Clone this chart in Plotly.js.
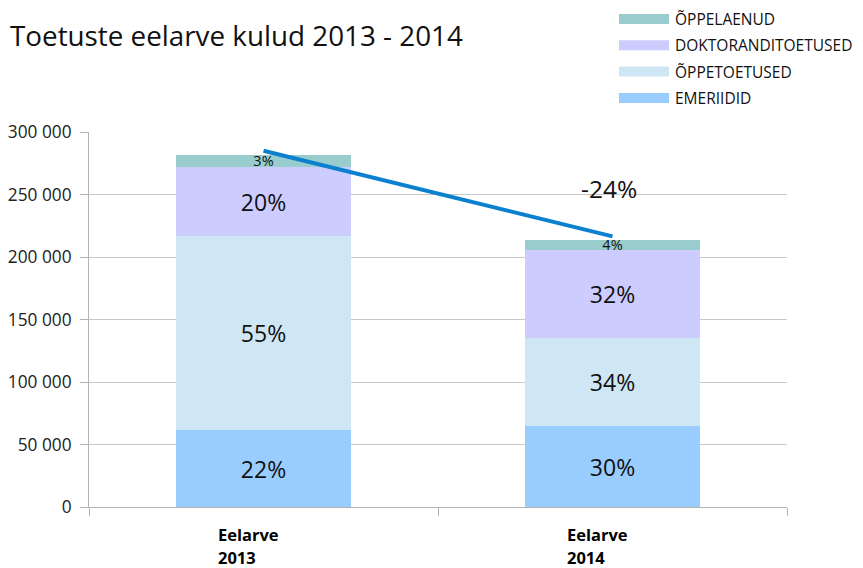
<!DOCTYPE html>
<html>
<head>
<meta charset="utf-8">
<script src="https://cdn.plot.ly/plotly-3.0.1.min.js"></script>
<style>html,body{margin:0;padding:0;background:#fff;}#chart{width:863px;height:568px;}</style>
</head>
<body>
<div id="chart"></div>
<script>
const categories = ["Eelarve 2013", "Eelarve 2014"];
const categoryLabels = ["Eelarve<br>2013", "Eelarve<br>2014"];
const seriesNames = ["EMERIIDID", "ÕPPETOETUSED", "DOKTORANDITOETUSED", "ÕPPELAENUD"];
const emeriidid = [61500, 64500];
const oppetoetused = [155000, 71000];
const doktorand = [55500, 70500];
const oppelaenud = [10000, 8000];
const pctEmeriidid = ["22%", "30%"];
const pctOppetoetused = ["55%", "34%"];
const pctDoktorand = ["20%", "32%"];
const pctOppelaenud = ["3%", "4%"];
const trendValues = [285000, 216500];
const trendLabel = "-24%";
const colors = ["#99CCFF", "#CFE6F4", "#CCCCFF", "#99CCCC"];

const seriesValues = [emeriidid, oppetoetused, doktorand, oppelaenud];
const seriesPct = [pctEmeriidid, pctOppetoetused, pctDoktorand, pctOppelaenud];
const font = "Open Sans, Noto Sans, DejaVu Sans, sans-serif";

const traces = seriesValues.map((vals, i) => ({
  type: "bar",
  x: categories,
  y: vals,
  name: seriesNames[i],
  marker: {color: colors[i]},
  text: seriesPct[i],
  texttemplate: "%{text}",
  textposition: "inside",
  insidetextanchor: "middle",
  constraintext: "none",
  textfont: {size: i === 3 ? 14.5 : 23, color: "#111", family: font},
  hoverinfo: "skip",
  showlegend: false
}));

traces.push({
  type: "scatter",
  mode: "lines",
  x: categories,
  y: trendValues,
  line: {color: "#0A80CF", width: 4},
  showlegend: false,
  hoverinfo: "skip"
});

const shapes = [];
const annotations = [];
// legend (top item = last series)
const legendOrder = [3, 2, 1, 0];
legendOrder.forEach((si, row) => {
  const yc = 19 + row * 26.3;
  shapes.push({
    type: "rect", xref: "paper", yref: "paper",
    x0: (619 - 89) / 698, x1: (669 - 89) / 698,
    y0: (507 - (yc - 5)) / 375, y1: (507 - (yc + 5)) / 375,
    fillcolor: colors[si], line: {width: 0}
  });
  annotations.push({
    xref: "paper", yref: "paper",
    x: (673 - 89) / 698, y: (507 - yc) / 375,
    xanchor: "left", yanchor: "middle",
    text: seriesNames[si], showarrow: false,
    font: {size: 15.5, color: "#111", family: font}
  });
});

categories.forEach((c, i) => {
  categoryLabels[i].split("<br>").forEach((line, k) => {
    annotations.push({
      x: c, xref: "x", yref: "paper", y: (507 - (534 + 23 * k)) / 375,
      xanchor: "left", yanchor: "middle", xshift: -48, align: "left",
      text: "<b>" + line + "</b>", showarrow: false,
      font: {size: 16.5, color: "#000", family: font}
    });
  });
});

annotations.push({
  x: 1, xref: "x", y: 255000, yref: "y", xshift: -4,
  text: trendLabel, showarrow: false,
  font: {size: 24.5, color: "#111", family: font}
});

const layout = {
  width: 863, height: 568,
  margin: {l: 89, r: 76, t: 132, b: 61},
  paper_bgcolor: "#fff", plot_bgcolor: "#fff",
  barmode: "stack",
  bargap: 0.5,
  separators: ", ",
  font: {family: font, color: "#111"},
  title: {
    text: "Toetuste eelarve kulud 2013 - 2014",
    x: 10 / 863, xanchor: "left", xref: "container",
    y: 1 - 36 / 568, yanchor: "middle", yref: "container",
    font: {size: 27.8, color: "#111", family: font}
  },
  xaxis: {
    type: "category",
    showticklabels: false,
    ticks: "outside", tickson: "boundaries", ticklen: 8, tickcolor: "#b3b3b3",
    showline: true, linecolor: "#b3b3b3", linewidth: 1,
    showgrid: false, zeroline: false,
    fixedrange: true
  },
  yaxis: {
    range: [0, 300000],
    dtick: 50000,
    tickformat: ",d",
    ticks: "outside", ticklen: 8, tickcolor: "#b3b3b3",
    ticklabelstandoff: 5,
    showline: true, linecolor: "#b3b3b3", linewidth: 1,
    gridcolor: "#c8c8c8", gridwidth: 1,
    zeroline: false,
    tickfont: {size: 17.3, color: "#222", family: font},
    fixedrange: true
  },
  shapes: shapes,
  annotations: annotations,
  showlegend: false
};

Plotly.newPlot("chart", traces, layout, {displayModeBar: false, staticPlot: true});
</script>
</body>
</html>
